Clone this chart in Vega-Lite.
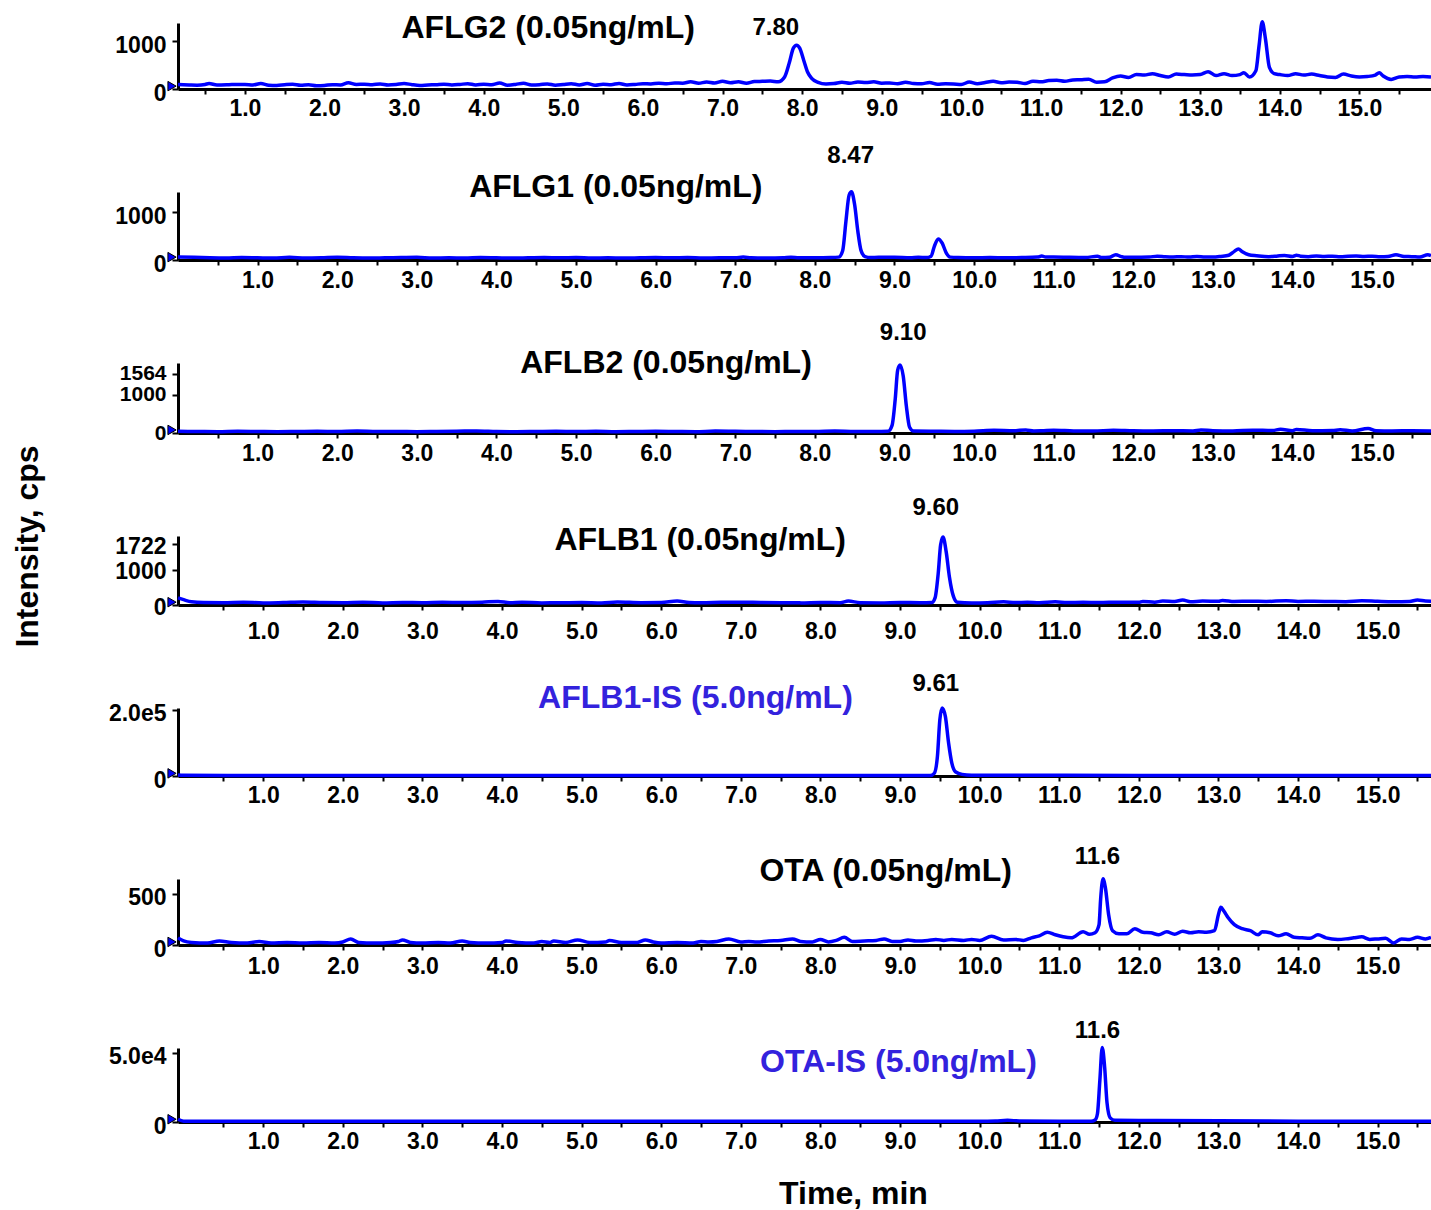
{
"$schema":"https://vega.github.io/schema/vega-lite/v6.json",
"background":"white",
"padding":{"left":10,"top":11,"right":0,"bottom":0},
"spacing":103,
"bounds":"flush",
"config":{"view":{"stroke":null},"axis":{"grid":false,"domainColor":"black","tickColor":"black","labelColor":"black","labelFont":"Liberation Sans","labelFontWeight":"bold","labelFontSize":23,"titleFont":"Liberation Sans","titleFontWeight":"bold","titleFontSize":32,"titleColor":"black"},"axisY":{"labelOverlap":false,"labelOffset":4,"labelPadding":6},"text":{"font":"Liberation Sans","fontWeight":"bold"}},
"datasets":{
"g2":[{"t":0.16,"v":95},{"t":0.3,"v":85},{"t":0.4,"v":80},{"t":0.5,"v":95},{"t":0.55,"v":115},{"t":0.65,"v":85},{"t":0.8,"v":90},{"t":0.9,"v":95},{"t":1.0,"v":95},{"t":1.1,"v":85},{"t":1.2,"v":115},{"t":1.3,"v":80},{"t":1.4,"v":75},{"t":1.5,"v":90},{"t":1.6,"v":100},{"t":1.7,"v":80},{"t":1.8,"v":90},{"t":1.9,"v":70},{"t":2.0,"v":75},{"t":2.1,"v":90},{"t":2.2,"v":85},{"t":2.3,"v":130},{"t":2.4,"v":95},{"t":2.5,"v":100},{"t":2.6,"v":90},{"t":2.7,"v":105},{"t":2.8,"v":85},{"t":2.9,"v":95},{"t":3.0,"v":115},{"t":3.1,"v":90},{"t":3.2,"v":75},{"t":3.3,"v":85},{"t":3.4,"v":90},{"t":3.5,"v":100},{"t":3.6,"v":85},{"t":3.7,"v":95},{"t":3.8,"v":110},{"t":3.9,"v":85},{"t":4.0,"v":100},{"t":4.1,"v":90},{"t":4.2,"v":125},{"t":4.3,"v":80},{"t":4.4,"v":95},{"t":4.5,"v":120},{"t":4.6,"v":85},{"t":4.7,"v":90},{"t":4.8,"v":105},{"t":4.9,"v":80},{"t":5.0,"v":95},{"t":5.1,"v":110},{"t":5.2,"v":85},{"t":5.3,"v":115},{"t":5.4,"v":80},{"t":5.5,"v":100},{"t":5.6,"v":90},{"t":5.7,"v":115},{"t":5.8,"v":85},{"t":5.9,"v":95},{"t":6.0,"v":110},{"t":6.1,"v":105},{"t":6.2,"v":120},{"t":6.3,"v":110},{"t":6.4,"v":125},{"t":6.5,"v":120},{"t":6.6,"v":150},{"t":6.7,"v":120},{"t":6.8,"v":145},{"t":6.9,"v":125},{"t":7.0,"v":160},{"t":7.1,"v":130},{"t":7.2,"v":150},{"t":7.3,"v":120},{"t":7.4,"v":155},{"t":7.5,"v":160},{"t":7.6,"v":165},{"t":7.7,"v":150},{"t":7.78,"v":250},{"t":7.84,"v":550},{"t":7.89,"v":850},{"t":7.93,"v":910},{"t":7.97,"v":850},{"t":8.02,"v":600},{"t":8.07,"v":350},{"t":8.12,"v":220},{"t":8.2,"v":140},{"t":8.3,"v":105},{"t":8.4,"v":115},{"t":8.5,"v":140},{"t":8.6,"v":120},{"t":8.7,"v":145},{"t":8.8,"v":135},{"t":8.9,"v":150},{"t":9.0,"v":120},{"t":9.1,"v":125},{"t":9.2,"v":110},{"t":9.3,"v":140},{"t":9.4,"v":115},{"t":9.5,"v":110},{"t":9.6,"v":135},{"t":9.7,"v":100},{"t":9.8,"v":110},{"t":9.9,"v":105},{"t":10.0,"v":95},{"t":10.1,"v":145},{"t":10.2,"v":110},{"t":10.3,"v":135},{"t":10.4,"v":160},{"t":10.5,"v":130},{"t":10.6,"v":145},{"t":10.7,"v":140},{"t":10.8,"v":115},{"t":10.9,"v":160},{"t":11.0,"v":150},{"t":11.1,"v":175},{"t":11.2,"v":180},{"t":11.3,"v":160},{"t":11.4,"v":190},{"t":11.5,"v":195},{"t":11.6,"v":205},{"t":11.7,"v":140},{"t":11.8,"v":150},{"t":11.9,"v":230},{"t":12.0,"v":270},{"t":12.1,"v":240},{"t":12.2,"v":300},{"t":12.3,"v":290},{"t":12.4,"v":320},{"t":12.5,"v":280},{"t":12.6,"v":250},{"t":12.7,"v":310},{"t":12.8,"v":300},{"t":12.9,"v":290},{"t":13.0,"v":300},{"t":13.1,"v":360},{"t":13.2,"v":280},{"t":13.3,"v":320},{"t":13.4,"v":280},{"t":13.5,"v":300},{"t":13.55,"v":340},{"t":13.62,"v":250},{"t":13.7,"v":380},{"t":13.74,"v":900},{"t":13.78,"v":1400},{"t":13.82,"v":1050},{"t":13.87,"v":450},{"t":13.93,"v":320},{"t":14.0,"v":300},{"t":14.1,"v":280},{"t":14.2,"v":320},{"t":14.3,"v":290},{"t":14.4,"v":310},{"t":14.5,"v":280},{"t":14.6,"v":250},{"t":14.7,"v":240},{"t":14.8,"v":310},{"t":14.9,"v":270},{"t":15.0,"v":250},{"t":15.1,"v":260},{"t":15.2,"v":290},{"t":15.25,"v":340},{"t":15.3,"v":270},{"t":15.4,"v":200},{"t":15.5,"v":250},{"t":15.6,"v":260},{"t":15.7,"v":250},{"t":15.8,"v":260},{"t":15.9,"v":250}],
"g1":[{"t":0.0,"v":60},{"t":0.2,"v":55},{"t":0.4,"v":45},{"t":0.6,"v":40},{"t":0.8,"v":50},{"t":1.0,"v":45},{"t":1.2,"v":40},{"t":1.4,"v":55},{"t":1.6,"v":40},{"t":1.8,"v":45},{"t":2.0,"v":55},{"t":2.2,"v":45},{"t":2.4,"v":40},{"t":2.6,"v":45},{"t":2.8,"v":50},{"t":3.0,"v":55},{"t":3.2,"v":40},{"t":3.4,"v":45},{"t":3.6,"v":40},{"t":3.8,"v":50},{"t":4.0,"v":45},{"t":4.2,"v":40},{"t":4.4,"v":45},{"t":4.6,"v":50},{"t":4.8,"v":45},{"t":5.0,"v":50},{"t":5.2,"v":40},{"t":5.4,"v":45},{"t":5.6,"v":40},{"t":5.8,"v":45},{"t":6.0,"v":50},{"t":6.2,"v":45},{"t":6.4,"v":50},{"t":6.6,"v":40},{"t":6.8,"v":45},{"t":7.0,"v":45},{"t":7.1,"v":60},{"t":7.2,"v":45},{"t":7.4,"v":40},{"t":7.6,"v":45},{"t":7.7,"v":55},{"t":7.8,"v":45},{"t":8.0,"v":45},{"t":8.2,"v":50},{"t":8.3,"v":60},{"t":8.35,"v":200},{"t":8.39,"v":800},{"t":8.43,"v":1350},{"t":8.46,"v":1420},{"t":8.5,"v":1150},{"t":8.54,"v":600},{"t":8.58,"v":200},{"t":8.63,"v":70},{"t":8.7,"v":50},{"t":8.8,"v":55},{"t":9.0,"v":55},{"t":9.2,"v":45},{"t":9.3,"v":55},{"t":9.4,"v":50},{"t":9.46,"v":80},{"t":9.5,"v":280},{"t":9.55,"v":440},{"t":9.6,"v":350},{"t":9.65,"v":150},{"t":9.7,"v":60},{"t":9.8,"v":50},{"t":10.0,"v":45},{"t":10.2,"v":50},{"t":10.4,"v":45},{"t":10.6,"v":50},{"t":10.8,"v":60},{"t":10.85,"v":85},{"t":10.9,"v":60},{"t":11.0,"v":65},{"t":11.2,"v":55},{"t":11.4,"v":50},{"t":11.55,"v":80},{"t":11.6,"v":50},{"t":11.7,"v":55},{"t":11.78,"v":110},{"t":11.85,"v":70},{"t":11.9,"v":55},{"t":12.0,"v":55},{"t":12.2,"v":60},{"t":12.3,"v":80},{"t":12.4,"v":70},{"t":12.5,"v":65},{"t":12.6,"v":70},{"t":12.7,"v":60},{"t":12.8,"v":75},{"t":12.9,"v":60},{"t":13.0,"v":60},{"t":13.1,"v":75},{"t":13.2,"v":100},{"t":13.27,"v":180},{"t":13.32,"v":230},{"t":13.37,"v":170},{"t":13.45,"v":110},{"t":13.55,"v":90},{"t":13.7,"v":70},{"t":13.8,"v":80},{"t":13.9,"v":95},{"t":14.0,"v":75},{"t":14.05,"v":100},{"t":14.1,"v":80},{"t":14.2,"v":70},{"t":14.3,"v":85},{"t":14.4,"v":75},{"t":14.5,"v":80},{"t":14.6,"v":70},{"t":14.7,"v":80},{"t":14.8,"v":85},{"t":14.9,"v":75},{"t":15.0,"v":80},{"t":15.1,"v":70},{"t":15.2,"v":75},{"t":15.3,"v":110},{"t":15.4,"v":75},{"t":15.5,"v":70},{"t":15.6,"v":60},{"t":15.7,"v":110},{"t":15.74,"v":90}],
"b2":[{"t":0.0,"v":45},{"t":0.25,"v":40},{"t":0.5,"v":35},{"t":0.75,"v":45},{"t":1.0,"v":40},{"t":1.25,"v":35},{"t":1.5,"v":40},{"t":1.75,"v":45},{"t":2.0,"v":40},{"t":2.25,"v":50},{"t":2.5,"v":40},{"t":2.75,"v":40},{"t":3.0,"v":35},{"t":3.25,"v":40},{"t":3.5,"v":45},{"t":3.75,"v":55},{"t":4.0,"v":40},{"t":4.25,"v":35},{"t":4.5,"v":40},{"t":4.75,"v":45},{"t":5.0,"v":40},{"t":5.25,"v":45},{"t":5.5,"v":35},{"t":5.75,"v":40},{"t":6.0,"v":45},{"t":6.25,"v":40},{"t":6.5,"v":35},{"t":6.75,"v":50},{"t":7.0,"v":45},{"t":7.25,"v":40},{"t":7.5,"v":35},{"t":7.75,"v":40},{"t":8.0,"v":40},{"t":8.25,"v":50},{"t":8.5,"v":40},{"t":8.75,"v":40},{"t":8.92,"v":45},{"t":8.97,"v":200},{"t":9.01,"v":900},{"t":9.04,"v":1650},{"t":9.07,"v":1790},{"t":9.11,"v":1500},{"t":9.15,"v":700},{"t":9.19,"v":150},{"t":9.24,"v":50},{"t":9.5,"v":45},{"t":9.75,"v":40},{"t":10.0,"v":45},{"t":10.25,"v":70},{"t":10.5,"v":60},{"t":10.65,"v":80},{"t":10.75,"v":55},{"t":10.85,"v":60},{"t":11.0,"v":75},{"t":11.25,"v":55},{"t":11.5,"v":50},{"t":11.75,"v":75},{"t":12.0,"v":60},{"t":12.25,"v":55},{"t":12.5,"v":60},{"t":12.75,"v":55},{"t":12.85,"v":80},{"t":13.0,"v":60},{"t":13.25,"v":55},{"t":13.5,"v":75},{"t":13.75,"v":65},{"t":13.85,"v":100},{"t":14.0,"v":60},{"t":14.05,"v":95},{"t":14.25,"v":60},{"t":14.5,"v":65},{"t":14.6,"v":85},{"t":14.75,"v":55},{"t":14.95,"v":120},{"t":15.05,"v":60},{"t":15.25,"v":55},{"t":15.5,"v":60},{"t":15.74,"v":55}],
"b1":[{"t":-0.07,"v":200},{"t":0.0,"v":150},{"t":0.1,"v":90},{"t":0.25,"v":70},{"t":0.5,"v":65},{"t":0.75,"v":80},{"t":1.0,"v":60},{"t":1.25,"v":70},{"t":1.5,"v":85},{"t":1.75,"v":70},{"t":2.0,"v":65},{"t":2.25,"v":75},{"t":2.5,"v":60},{"t":2.75,"v":70},{"t":3.0,"v":65},{"t":3.25,"v":75},{"t":3.5,"v":70},{"t":3.75,"v":80},{"t":3.95,"v":100},{"t":4.1,"v":65},{"t":4.25,"v":75},{"t":4.5,"v":60},{"t":4.75,"v":65},{"t":5.0,"v":70},{"t":5.25,"v":60},{"t":5.45,"v":85},{"t":5.75,"v":65},{"t":6.0,"v":70},{"t":6.2,"v":110},{"t":6.35,"v":70},{"t":6.5,"v":65},{"t":6.75,"v":75},{"t":7.0,"v":80},{"t":7.25,"v":70},{"t":7.5,"v":65},{"t":7.75,"v":60},{"t":8.0,"v":70},{"t":8.25,"v":65},{"t":8.35,"v":110},{"t":8.5,"v":65},{"t":8.75,"v":60},{"t":9.0,"v":70},{"t":9.25,"v":65},{"t":9.4,"v":70},{"t":9.44,"v":200},{"t":9.48,"v":900},{"t":9.51,"v":1700},{"t":9.54,"v":1920},{"t":9.58,"v":1500},{"t":9.62,"v":800},{"t":9.67,"v":250},{"t":9.72,"v":80},{"t":9.9,"v":60},{"t":10.1,"v":65},{"t":10.3,"v":90},{"t":10.45,"v":70},{"t":10.6,"v":75},{"t":10.75,"v":65},{"t":10.95,"v":90},{"t":11.1,"v":70},{"t":11.3,"v":75},{"t":11.5,"v":70},{"t":11.75,"v":80},{"t":12.0,"v":75},{"t":12.05,"v":100},{"t":12.2,"v":80},{"t":12.3,"v":110},{"t":12.45,"v":100},{"t":12.55,"v":140},{"t":12.65,"v":90},{"t":12.8,"v":110},{"t":13.0,"v":105},{"t":13.05,"v":130},{"t":13.2,"v":100},{"t":13.4,"v":105},{"t":13.6,"v":100},{"t":13.85,"v":120},{"t":14.0,"v":100},{"t":14.2,"v":105},{"t":14.4,"v":100},{"t":14.6,"v":95},{"t":14.8,"v":120},{"t":15.0,"v":105},{"t":15.2,"v":95},{"t":15.4,"v":100},{"t":15.5,"v":140},{"t":15.6,"v":110},{"t":15.67,"v":105}],
"b1is":[{"t":-0.07,"v":3000},{"t":0.0,"v":2000},{"t":1.0,"v":1500},{"t":2.0,"v":1500},{"t":3.0,"v":1500},{"t":4.0,"v":1500},{"t":5.0,"v":1500},{"t":6.0,"v":1500},{"t":7.0,"v":1500},{"t":8.0,"v":1500},{"t":9.0,"v":1500},{"t":9.38,"v":1500},{"t":9.43,"v":8000},{"t":9.47,"v":60000},{"t":9.5,"v":170000},{"t":9.53,"v":206000},{"t":9.57,"v":180000},{"t":9.61,"v":100000},{"t":9.65,"v":40000},{"t":9.7,"v":12000},{"t":9.78,"v":5000},{"t":9.9,"v":2500},{"t":11.0,"v":2000},{"t":12.0,"v":1800},{"t":13.0,"v":1800},{"t":14.0,"v":1800},{"t":15.0,"v":1800},{"t":15.67,"v":1800}],
"ota":[{"t":-0.07,"v":70},{"t":0.0,"v":40},{"t":0.1,"v":25},{"t":0.3,"v":20},{"t":0.45,"v":40},{"t":0.6,"v":25},{"t":0.8,"v":20},{"t":0.95,"v":35},{"t":1.1,"v":20},{"t":1.3,"v":25},{"t":1.5,"v":20},{"t":1.7,"v":25},{"t":1.9,"v":20},{"t":2.0,"v":30},{"t":2.1,"v":60},{"t":2.2,"v":25},{"t":2.4,"v":20},{"t":2.6,"v":25},{"t":2.7,"v":35},{"t":2.75,"v":50},{"t":2.85,"v":25},{"t":3.0,"v":20},{"t":3.2,"v":25},{"t":3.35,"v":20},{"t":3.5,"v":40},{"t":3.6,"v":25},{"t":3.8,"v":20},{"t":4.0,"v":25},{"t":4.05,"v":40},{"t":4.2,"v":25},{"t":4.4,"v":20},{"t":4.5,"v":35},{"t":4.6,"v":25},{"t":4.65,"v":40},{"t":4.8,"v":25},{"t":4.95,"v":50},{"t":5.1,"v":25},{"t":5.3,"v":30},{"t":5.35,"v":45},{"t":5.5,"v":25},{"t":5.7,"v":25},{"t":5.8,"v":50},{"t":5.9,"v":30},{"t":6.0,"v":20},{"t":6.2,"v":25},{"t":6.4,"v":20},{"t":6.5,"v":35},{"t":6.6,"v":30},{"t":6.7,"v":35},{"t":6.85,"v":60},{"t":7.0,"v":30},{"t":7.1,"v":35},{"t":7.2,"v":30},{"t":7.35,"v":40},{"t":7.5,"v":45},{"t":7.65,"v":60},{"t":7.75,"v":35},{"t":7.9,"v":30},{"t":8.0,"v":55},{"t":8.1,"v":30},{"t":8.2,"v":45},{"t":8.3,"v":75},{"t":8.4,"v":35},{"t":8.55,"v":40},{"t":8.7,"v":45},{"t":8.8,"v":60},{"t":8.9,"v":35},{"t":9.0,"v":35},{"t":9.1,"v":50},{"t":9.2,"v":40},{"t":9.35,"v":45},{"t":9.45,"v":55},{"t":9.55,"v":45},{"t":9.65,"v":55},{"t":9.8,"v":45},{"t":9.9,"v":55},{"t":10.0,"v":45},{"t":10.15,"v":85},{"t":10.3,"v":50},{"t":10.45,"v":55},{"t":10.55,"v":45},{"t":10.65,"v":70},{"t":10.75,"v":90},{"t":10.85,"v":125},{"t":10.95,"v":100},{"t":11.05,"v":80},{"t":11.15,"v":70},{"t":11.3,"v":130},{"t":11.38,"v":105},{"t":11.45,"v":120},{"t":11.5,"v":200},{"t":11.52,"v":450},{"t":11.55,"v":650},{"t":11.58,"v":560},{"t":11.62,"v":300},{"t":11.67,"v":140},{"t":11.75,"v":110},{"t":11.85,"v":110},{"t":11.95,"v":160},{"t":12.05,"v":125},{"t":12.15,"v":120},{"t":12.25,"v":100},{"t":12.35,"v":130},{"t":12.45,"v":105},{"t":12.55,"v":135},{"t":12.65,"v":120},{"t":12.75,"v":130},{"t":12.85,"v":125},{"t":12.95,"v":140},{"t":13.0,"v":300},{"t":13.03,"v":370},{"t":13.07,"v":330},{"t":13.12,"v":270},{"t":13.2,"v":200},{"t":13.3,"v":160},{"t":13.4,"v":140},{"t":13.5,"v":100},{"t":13.55,"v":130},{"t":13.65,"v":120},{"t":13.75,"v":90},{"t":13.85,"v":110},{"t":13.95,"v":75},{"t":14.05,"v":70},{"t":14.15,"v":65},{"t":14.25,"v":100},{"t":14.35,"v":70},{"t":14.5,"v":55},{"t":14.6,"v":60},{"t":14.7,"v":70},{"t":14.8,"v":80},{"t":14.9,"v":55},{"t":15.0,"v":60},{"t":15.1,"v":65},{"t":15.2,"v":20},{"t":15.3,"v":60},{"t":15.4,"v":55},{"t":15.5,"v":75},{"t":15.6,"v":60},{"t":15.67,"v":75}],
"otais":[{"t":-0.07,"v":2000},{"t":0.0,"v":600},{"t":0.5,"v":500},{"t":1.0,"v":500},{"t":2.0,"v":500},{"t":3.0,"v":500},{"t":4.0,"v":500},{"t":5.0,"v":500},{"t":6.0,"v":500},{"t":7.0,"v":500},{"t":8.0,"v":500},{"t":9.0,"v":500},{"t":10.0,"v":500},{"t":10.2,"v":700},{"t":10.35,"v":1200},{"t":10.5,"v":800},{"t":11.0,"v":600},{"t":11.4,"v":600},{"t":11.45,"v":1500},{"t":11.48,"v":6000},{"t":11.51,"v":30000},{"t":11.54,"v":54000},{"t":11.57,"v":40000},{"t":11.6,"v":14000},{"t":11.64,"v":3000},{"t":11.7,"v":1200},{"t":12.0,"v":1100},{"t":13.0,"v":900},{"t":14.0,"v":600},{"t":15.0,"v":500},{"t":15.67,"v":500}],
"ann":[
{"p":"g2","kind":"title","t":4.81,"v":1271,"label":"AFLG2 (0.05ng/mL)"},
{"p":"g2","kind":"peak","t":7.67,"v":1271,"label":"7.80"},
{"p":"g2","kind":"start","t":0.085,"v":60,"label":""},
{"p":"g1","kind":"title","t":5.50,"v":1521,"label":"AFLG1 (0.05ng/mL)"},
{"p":"g1","kind":"peak","t":8.45,"v":2167,"label":"8.47"},
{"p":"g1","kind":"start","t":-0.075,"v":60,"label":""},
{"p":"b2","kind":"title","t":6.13,"v":1842,"label":"AFLB2 (0.05ng/mL)"},
{"p":"b2","kind":"peak","t":9.11,"v":2631,"label":"9.10"},
{"p":"b2","kind":"start","t":-0.075,"v":80,"label":""},
{"p":"b1","kind":"title","t":6.49,"v":1835,"label":"AFLB1 (0.05ng/mL)"},
{"p":"b1","kind":"peak","t":9.45,"v":2738,"label":"9.60"},
{"p":"b1","kind":"start","t":-0.145,"v":80,"label":""},
{"p":"b1is","kind":"title","t":6.43,"v":236300,"label":"AFLB1-IS (5.0ng/mL)"},
{"p":"b1is","kind":"peak","t":9.45,"v":278700,"label":"9.61"},
{"p":"b1is","kind":"start","t":-0.145,"v":8000,"label":""},
{"p":"ota","kind":"title","t":8.82,"v":725,"label":"OTA (0.05ng/mL)"},
{"p":"ota","kind":"peak","t":11.48,"v":863,"label":"11.6"},
{"p":"ota","kind":"start","t":-0.145,"v":30,"label":""},
{"p":"otais","kind":"title","t":8.98,"v":43500,"label":"OTA-IS (5.0ng/mL)"},
{"p":"otais","kind":"peak","t":11.48,"v":65900,"label":"11.6"},
{"p":"otais","kind":"start","t":-0.145,"v":2000,"label":""}
]
},
"vconcat":[
{"width":1253,"height":66,"layer":[
 {"data":{"name":"g2"},"mark":{"type":"line","color":"#0000ff","strokeWidth":3.5,"interpolate":"monotone"},"encoding":{
  "x":{"field":"t","type":"quantitative","scale":{"domain":[0.16,15.9],"nice":false,"zero":false},"axis":{"title":null,"values":[0.5,1,1.5,2,2.5,3,3.5,4,4.5,5,5.5,6,6.5,7,7.5,8,8.5,9,9.5,10,10.5,11,11.5,12,12.5,13,13.5,14,14.5,15,15.5],"tickCount":40,"labelExpr":"datum.value % 1 == 0 ? format(datum.value, '.1f') : ''","labelFlush":false,"labelOverlap":false,"domainWidth":3,"tickSize":5,"tickWidth":2,"labelPadding":3}},
  "y":{"field":"v","type":"quantitative","scale":{"domain":[0,1375],"nice":false},"axis":{"title":null,"values":[0,1000],"tickCount":10,"format":"d","labelOverlap":false,"domainWidth":3,"tickSize":6,"tickWidth":2}}}},
 {"data":{"name":"ann"},"transform":[{"filter":"datum.p=='g2' && datum.kind=='title'"}],"mark":{"type":"text","fontSize":32,"color":"black"},"encoding":{"x":{"field":"t","type":"quantitative"},"y":{"field":"v","type":"quantitative"},"text":{"field":"label"}}},
 {"data":{"name":"ann"},"transform":[{"filter":"datum.p=='g2' && datum.kind=='peak'"}],"mark":{"type":"text","fontSize":24,"color":"black"},"encoding":{"x":{"field":"t","type":"quantitative"},"y":{"field":"v","type":"quantitative"},"text":{"field":"label"}}},
 {"data":{"name":"ann"},"transform":[{"filter":"datum.p=='g2' && datum.kind=='start'"}],"mark":{"type":"point","shape":"triangle-right","filled":true,"fill":"#0000ff","stroke":"black","strokeWidth":1,"size":90,"opacity":1},"encoding":{"x":{"field":"t","type":"quantitative"},"y":{"field":"v","type":"quantitative"}}}
]},
{"width":1253,"height":68,"layer":[
 {"data":{"name":"g1"},"mark":{"type":"line","color":"#0000ff","strokeWidth":3.5,"interpolate":"monotone"},"encoding":{
  "x":{"field":"t","type":"quantitative","scale":{"domain":[0,15.74],"nice":false,"zero":false},"axis":{"title":null,"values":[0.5,1,1.5,2,2.5,3,3.5,4,4.5,5,5.5,6,6.5,7,7.5,8,8.5,9,9.5,10,10.5,11,11.5,12,12.5,13,13.5,14,14.5,15,15.5],"tickCount":40,"labelExpr":"datum.value % 1 == 0 ? format(datum.value, '.1f') : ''","labelFlush":false,"labelOverlap":false,"domainWidth":3,"tickSize":5,"tickWidth":2,"labelPadding":4}},
  "y":{"field":"v","type":"quantitative","scale":{"domain":[0,1417],"nice":false},"axis":{"title":null,"values":[0,1000],"tickCount":10,"format":"d","labelOverlap":false,"domainWidth":3,"tickSize":6,"tickWidth":2}}}},
 {"data":{"name":"ann"},"transform":[{"filter":"datum.p=='g1' && datum.kind=='title'"}],"mark":{"type":"text","fontSize":32,"color":"black"},"encoding":{"x":{"field":"t","type":"quantitative"},"y":{"field":"v","type":"quantitative"},"text":{"field":"label"}}},
 {"data":{"name":"ann"},"transform":[{"filter":"datum.p=='g1' && datum.kind=='peak'"}],"mark":{"type":"text","fontSize":24,"color":"black"},"encoding":{"x":{"field":"t","type":"quantitative"},"y":{"field":"v","type":"quantitative"},"text":{"field":"label"}}},
 {"data":{"name":"ann"},"transform":[{"filter":"datum.p=='g1' && datum.kind=='start'"}],"mark":{"type":"point","shape":"triangle-right","filled":true,"fill":"#0000ff","stroke":"black","strokeWidth":1,"size":90,"opacity":1},"encoding":{"x":{"field":"t","type":"quantitative"},"y":{"field":"v","type":"quantitative"}}}
]},
{"width":1253,"height":70,"layer":[
 {"data":{"name":"b2"},"mark":{"type":"line","color":"#0000ff","strokeWidth":3.5,"interpolate":"monotone"},"encoding":{
  "x":{"field":"t","type":"quantitative","scale":{"domain":[0,15.74],"nice":false,"zero":false},"axis":{"title":null,"values":[0.5,1,1.5,2,2.5,3,3.5,4,4.5,5,5.5,6,6.5,7,7.5,8,8.5,9,9.5,10,10.5,11,11.5,12,12.5,13,13.5,14,14.5,15,15.5],"tickCount":40,"labelExpr":"datum.value % 1 == 0 ? format(datum.value, '.1f') : ''","labelFlush":false,"labelOverlap":false,"domainWidth":3,"tickSize":5,"tickWidth":2,"labelPadding":4}},
  "y":{"field":"v","type":"quantitative","scale":{"domain":[0,1842],"nice":false},"axis":{"title":null,"values":[0,1000,1564],"tickCount":10,"format":"d","labelOverlap":false,"labelOffset":0,"labelFontSize":21,"domainWidth":3,"tickSize":6,"tickWidth":2}}}},
 {"data":{"name":"ann"},"transform":[{"filter":"datum.p=='b2' && datum.kind=='title'"}],"mark":{"type":"text","fontSize":32,"color":"black"},"encoding":{"x":{"field":"t","type":"quantitative"},"y":{"field":"v","type":"quantitative"},"text":{"field":"label"}}},
 {"data":{"name":"ann"},"transform":[{"filter":"datum.p=='b2' && datum.kind=='peak'"}],"mark":{"type":"text","fontSize":24,"color":"black"},"encoding":{"x":{"field":"t","type":"quantitative"},"y":{"field":"v","type":"quantitative"},"text":{"field":"label"}}},
 {"data":{"name":"ann"},"transform":[{"filter":"datum.p=='b2' && datum.kind=='start'"}],"mark":{"type":"point","shape":"triangle-right","filled":true,"fill":"#0000ff","stroke":"black","strokeWidth":1,"size":90,"opacity":1},"encoding":{"x":{"field":"t","type":"quantitative"},"y":{"field":"v","type":"quantitative"}}}
]},
{"width":1253,"height":69,"layer":[
 {"data":{"name":"b1"},"mark":{"type":"line","color":"#0000ff","strokeWidth":3.5,"interpolate":"monotone"},"encoding":{
  "x":{"field":"t","type":"quantitative","scale":{"domain":[-0.07,15.67],"nice":false,"zero":false},"axis":{"title":null,"values":[0.5,1,1.5,2,2.5,3,3.5,4,4.5,5,5.5,6,6.5,7,7.5,8,8.5,9,9.5,10,10.5,11,11.5,12,12.5,13,13.5,14,14.5,15,15.5],"tickCount":40,"labelExpr":"datum.value % 1 == 0 ? format(datum.value, '.1f') : ''","labelFlush":false,"labelOverlap":false,"domainWidth":3,"tickSize":5,"tickWidth":2,"labelPadding":10}},
  "y":{"field":"v","type":"quantitative","scale":{"domain":[0,1948],"nice":false},"axis":{"title":"Intensity, cps","titleX":-151,"titleY":10,"titleAngle":-90,"titleAlign":"center","titleBaseline":"middle","values":[0,1000,1722],"tickCount":10,"format":"d","labelOverlap":false,"labelOffset":2,"domainWidth":3,"tickSize":6,"tickWidth":2}}}},
 {"data":{"name":"ann"},"transform":[{"filter":"datum.p=='b1' && datum.kind=='title'"}],"mark":{"type":"text","fontSize":32,"color":"black"},"encoding":{"x":{"field":"t","type":"quantitative"},"y":{"field":"v","type":"quantitative"},"text":{"field":"label"}}},
 {"data":{"name":"ann"},"transform":[{"filter":"datum.p=='b1' && datum.kind=='peak'"}],"mark":{"type":"text","fontSize":24,"color":"black"},"encoding":{"x":{"field":"t","type":"quantitative"},"y":{"field":"v","type":"quantitative"},"text":{"field":"label"}}},
 {"data":{"name":"ann"},"transform":[{"filter":"datum.p=='b1' && datum.kind=='start'"}],"mark":{"type":"point","shape":"triangle-right","filled":true,"fill":"#0000ff","stroke":"black","strokeWidth":1,"size":90,"opacity":1},"encoding":{"x":{"field":"t","type":"quantitative"},"y":{"field":"v","type":"quantitative"}}}
]},
{"width":1253,"height":68,"layer":[
 {"data":{"name":"b1is"},"mark":{"type":"line","color":"#0000ff","strokeWidth":3.5,"interpolate":"monotone"},"encoding":{
  "x":{"field":"t","type":"quantitative","scale":{"domain":[-0.07,15.67],"nice":false,"zero":false},"axis":{"title":null,"values":[0.5,1,1.5,2,2.5,3,3.5,4,4.5,5,5.5,6,6.5,7,7.5,8,8.5,9,9.5,10,10.5,11,11.5,12,12.5,13,13.5,14,14.5,15,15.5],"tickCount":40,"labelExpr":"datum.value % 1 == 0 ? format(datum.value, '.1f') : ''","labelFlush":false,"labelOverlap":false,"domainWidth":3,"tickSize":5,"tickWidth":2,"labelPadding":3}},
  "y":{"field":"v","type":"quantitative","scale":{"domain":[0,206000],"nice":false},"axis":{"title":null,"values":[0,200000],"tickCount":10,"labelExpr":"datum.value == 0 ? '0' : '2.0e5'","labelOverlap":false,"domainWidth":3,"tickSize":6,"tickWidth":2}}}},
 {"data":{"name":"ann"},"transform":[{"filter":"datum.p=='b1is' && datum.kind=='title'"}],"mark":{"type":"text","fontSize":32,"color":"#3322dd"},"encoding":{"x":{"field":"t","type":"quantitative"},"y":{"field":"v","type":"quantitative"},"text":{"field":"label"}}},
 {"data":{"name":"ann"},"transform":[{"filter":"datum.p=='b1is' && datum.kind=='peak'"}],"mark":{"type":"text","fontSize":24,"color":"black"},"encoding":{"x":{"field":"t","type":"quantitative"},"y":{"field":"v","type":"quantitative"},"text":{"field":"label"}}},
 {"data":{"name":"ann"},"transform":[{"filter":"datum.p=='b1is' && datum.kind=='start'"}],"mark":{"type":"point","shape":"triangle-right","filled":true,"fill":"#0000ff","stroke":"black","strokeWidth":1,"size":90,"opacity":1},"encoding":{"x":{"field":"t","type":"quantitative"},"y":{"field":"v","type":"quantitative"}}}
]},
{"width":1253,"height":66,"layer":[
 {"data":{"name":"ota"},"mark":{"type":"line","color":"#0000ff","strokeWidth":3.5,"interpolate":"monotone"},"encoding":{
  "x":{"field":"t","type":"quantitative","scale":{"domain":[-0.07,15.67],"nice":false,"zero":false},"axis":{"title":null,"values":[0.5,1,1.5,2,2.5,3,3.5,4,4.5,5,5.5,6,6.5,7,7.5,8,8.5,9,9.5,10,10.5,11,11.5,12,12.5,13,13.5,14,14.5,15,15.5],"tickCount":40,"labelExpr":"datum.value % 1 == 0 ? format(datum.value, '.1f') : ''","labelFlush":false,"labelOverlap":false,"domainWidth":3,"tickSize":5,"tickWidth":2,"labelPadding":5}},
  "y":{"field":"v","type":"quantitative","scale":{"domain":[0,647],"nice":false},"axis":{"title":null,"values":[0,500],"tickCount":10,"format":"d","labelOverlap":false,"domainWidth":3,"tickSize":6,"tickWidth":2}}}},
 {"data":{"name":"ann"},"transform":[{"filter":"datum.p=='ota' && datum.kind=='title'"}],"mark":{"type":"text","fontSize":32,"color":"black"},"encoding":{"x":{"field":"t","type":"quantitative"},"y":{"field":"v","type":"quantitative"},"text":{"field":"label"}}},
 {"data":{"name":"ann"},"transform":[{"filter":"datum.p=='ota' && datum.kind=='peak'"}],"mark":{"type":"text","fontSize":24,"color":"black"},"encoding":{"x":{"field":"t","type":"quantitative"},"y":{"field":"v","type":"quantitative"},"text":{"field":"label"}}},
 {"data":{"name":"ann"},"transform":[{"filter":"datum.p=='ota' && datum.kind=='start'"}],"mark":{"type":"point","shape":"triangle-right","filled":true,"fill":"#0000ff","stroke":"black","strokeWidth":1,"size":90,"opacity":1},"encoding":{"x":{"field":"t","type":"quantitative"},"y":{"field":"v","type":"quantitative"}}}
]},
{"width":1253,"height":74,"layer":[
 {"data":{"name":"otais"},"mark":{"type":"line","color":"#0000ff","strokeWidth":3.5,"interpolate":"monotone"},"encoding":{
  "x":{"field":"t","type":"quantitative","scale":{"domain":[-0.07,15.67],"nice":false,"zero":false},"axis":{"title":"Time, min","titleX":675,"titleY":71,"titleAlign":"center","titleBaseline":"middle","values":[0.5,1,1.5,2,2.5,3,3.5,4,4.5,5,5.5,6,6.5,7,7.5,8,8.5,9,9.5,10,10.5,11,11.5,12,12.5,13,13.5,14,14.5,15,15.5],"tickCount":40,"labelExpr":"datum.value % 1 == 0 ? format(datum.value, '.1f') : ''","labelFlush":false,"labelOverlap":false,"domainWidth":3,"tickSize":5,"tickWidth":2,"labelPadding":3}},
  "y":{"field":"v","type":"quantitative","scale":{"domain":[0,53600],"nice":false},"axis":{"title":null,"values":[0,50000],"tickCount":10,"labelExpr":"datum.value == 0 ? '0' : '5.0e4'","labelOverlap":false,"domainWidth":3,"tickSize":6,"tickWidth":2}}}},
 {"data":{"name":"ann"},"transform":[{"filter":"datum.p=='otais' && datum.kind=='title'"}],"mark":{"type":"text","fontSize":32,"color":"#3322dd"},"encoding":{"x":{"field":"t","type":"quantitative"},"y":{"field":"v","type":"quantitative"},"text":{"field":"label"}}},
 {"data":{"name":"ann"},"transform":[{"filter":"datum.p=='otais' && datum.kind=='peak'"}],"mark":{"type":"text","fontSize":24,"color":"black"},"encoding":{"x":{"field":"t","type":"quantitative"},"y":{"field":"v","type":"quantitative"},"text":{"field":"label"}}},
 {"data":{"name":"ann"},"transform":[{"filter":"datum.p=='otais' && datum.kind=='start'"}],"mark":{"type":"point","shape":"triangle-right","filled":true,"fill":"#0000ff","stroke":"black","strokeWidth":1,"size":90,"opacity":1},"encoding":{"x":{"field":"t","type":"quantitative"},"y":{"field":"v","type":"quantitative"}}}
]}
]
}
